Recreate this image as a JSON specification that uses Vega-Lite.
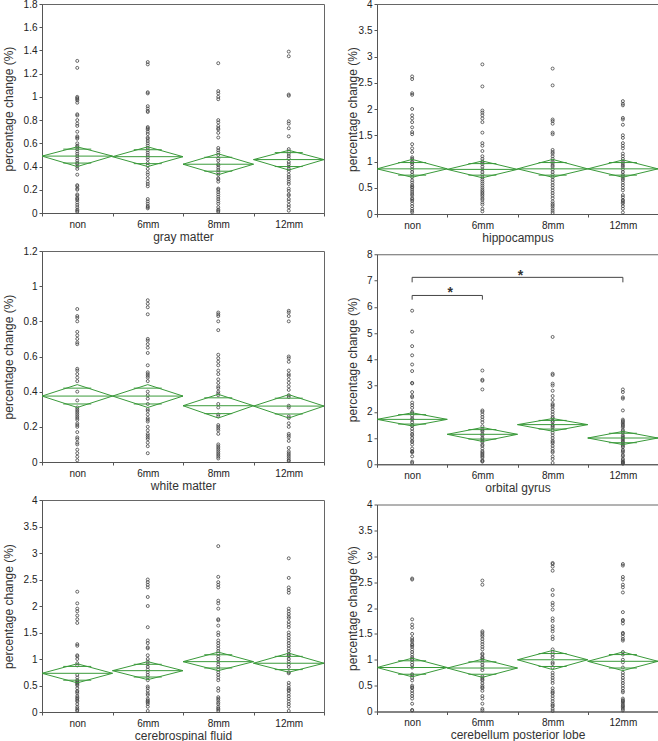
{
"$schema":"https://vega.github.io/schema/vega-lite/v6.json",
"padding":{"left":1,"top":-2,"right":0,"bottom":0},
"background":"white",
"config":{
 "view":{"stroke":"#666","strokeWidth":1},
 "axis":{"domainColor":"#555","tickColor":"#555","labelFont":"Liberation Sans","labelFontSize":10,"labelColor":"#222","titleFont":"Liberation Sans","titleFontSize":12,"titleFontWeight":"normal","titleColor":"#333","grid":false,"tickSize":3},
 "axisX":{"labelAngle":0,"tickBand":"extent","labelPadding":3,"titlePadding":2},
 "axisY":{"labelPadding":2}
},
"datasets":{
"gm":[{"g":"non","v":1.31},{"g":"non","v":1.25},{"g":"non","v":1.0},{"g":"non","v":0.99},{"g":"non","v":0.98},{"g":"non","v":0.97},{"g":"non","v":0.95},{"g":"non","v":0.85},{"g":"non","v":0.84},{"g":"non","v":0.8},{"g":"non","v":0.77},{"g":"non","v":0.75},{"g":"non","v":0.7},{"g":"non","v":0.66},{"g":"non","v":0.65},{"g":"non","v":0.64},{"g":"non","v":0.6},{"g":"non","v":0.58},{"g":"non","v":0.57},{"g":"non","v":0.55},{"g":"non","v":0.53},{"g":"non","v":0.51},{"g":"non","v":0.49},{"g":"non","v":0.47},{"g":"non","v":0.45},{"g":"non","v":0.43},{"g":"non","v":0.42},{"g":"non","v":0.4},{"g":"non","v":0.38},{"g":"non","v":0.33},{"g":"non","v":0.24},{"g":"non","v":0.23},{"g":"non","v":0.21},{"g":"non","v":0.2},{"g":"non","v":0.16},{"g":"non","v":0.15},{"g":"non","v":0.13},{"g":"non","v":0.12},{"g":"non","v":0.11},{"g":"non","v":0.09},{"g":"non","v":0.07},{"g":"non","v":0.05},{"g":"non","v":0.03},{"g":"non","v":0.02},{"g":"non","v":0.01},
{"g":"6mm","v":1.3},{"g":"6mm","v":1.28},{"g":"6mm","v":1.04},{"g":"6mm","v":1.03},{"g":"6mm","v":0.92},{"g":"6mm","v":0.9},{"g":"6mm","v":0.88},{"g":"6mm","v":0.87},{"g":"6mm","v":0.74},{"g":"6mm","v":0.73},{"g":"6mm","v":0.72},{"g":"6mm","v":0.7},{"g":"6mm","v":0.68},{"g":"6mm","v":0.65},{"g":"6mm","v":0.64},{"g":"6mm","v":0.62},{"g":"6mm","v":0.6},{"g":"6mm","v":0.58},{"g":"6mm","v":0.56},{"g":"6mm","v":0.54},{"g":"6mm","v":0.52},{"g":"6mm","v":0.5},{"g":"6mm","v":0.48},{"g":"6mm","v":0.46},{"g":"6mm","v":0.43},{"g":"6mm","v":0.41},{"g":"6mm","v":0.38},{"g":"6mm","v":0.35},{"g":"6mm","v":0.33},{"g":"6mm","v":0.3},{"g":"6mm","v":0.27},{"g":"6mm","v":0.25},{"g":"6mm","v":0.23},{"g":"6mm","v":0.12},{"g":"6mm","v":0.1},{"g":"6mm","v":0.08},{"g":"6mm","v":0.06},{"g":"6mm","v":0.05},{"g":"6mm","v":0.04},
{"g":"8mm","v":1.29},{"g":"8mm","v":1.05},{"g":"8mm","v":1.03},{"g":"8mm","v":1.0},{"g":"8mm","v":0.98},{"g":"8mm","v":0.8},{"g":"8mm","v":0.78},{"g":"8mm","v":0.75},{"g":"8mm","v":0.73},{"g":"8mm","v":0.72},{"g":"8mm","v":0.69},{"g":"8mm","v":0.65},{"g":"8mm","v":0.56},{"g":"8mm","v":0.54},{"g":"8mm","v":0.52},{"g":"8mm","v":0.5},{"g":"8mm","v":0.47},{"g":"8mm","v":0.45},{"g":"8mm","v":0.42},{"g":"8mm","v":0.41},{"g":"8mm","v":0.39},{"g":"8mm","v":0.37},{"g":"8mm","v":0.35},{"g":"8mm","v":0.33},{"g":"8mm","v":0.3},{"g":"8mm","v":0.29},{"g":"8mm","v":0.27},{"g":"8mm","v":0.21},{"g":"8mm","v":0.2},{"g":"8mm","v":0.18},{"g":"8mm","v":0.16},{"g":"8mm","v":0.14},{"g":"8mm","v":0.12},{"g":"8mm","v":0.1},{"g":"8mm","v":0.08},{"g":"8mm","v":0.05},{"g":"8mm","v":0.03},{"g":"8mm","v":0.02},{"g":"8mm","v":0.01},
{"g":"12mm","v":1.39},{"g":"12mm","v":1.35},{"g":"12mm","v":1.02},{"g":"12mm","v":1.01},{"g":"12mm","v":0.79},{"g":"12mm","v":0.77},{"g":"12mm","v":0.73},{"g":"12mm","v":0.66},{"g":"12mm","v":0.55},{"g":"12mm","v":0.53},{"g":"12mm","v":0.51},{"g":"12mm","v":0.49},{"g":"12mm","v":0.47},{"g":"12mm","v":0.44},{"g":"12mm","v":0.42},{"g":"12mm","v":0.4},{"g":"12mm","v":0.38},{"g":"12mm","v":0.36},{"g":"12mm","v":0.33},{"g":"12mm","v":0.31},{"g":"12mm","v":0.29},{"g":"12mm","v":0.27},{"g":"12mm","v":0.25},{"g":"12mm","v":0.21},{"g":"12mm","v":0.19},{"g":"12mm","v":0.16},{"g":"12mm","v":0.15},{"g":"12mm","v":0.12},{"g":"12mm","v":0.1},{"g":"12mm","v":0.07},{"g":"12mm","v":0.05},{"g":"12mm","v":0.02}],
"gm_d":[{"g":"non","mean":0.49,"hi":0.57,"lo":0.4,"oh":0.55,"ol":0.43},{"g":"6mm","mean":0.485,"hi":0.57,"lo":0.4,"oh":0.545,"ol":0.425},{"g":"8mm","mean":0.42,"hi":0.51,"lo":0.33,"oh":0.48,"ol":0.36},{"g":"12mm","mean":0.46,"hi":0.54,"lo":0.37,"oh":0.52,"ol":0.4}],
"hc":[{"g":"non","v":2.62},{"g":"non","v":2.57},{"g":"non","v":2.3},{"g":"non","v":2.27},{"g":"non","v":2.0},{"g":"non","v":1.88},{"g":"non","v":1.82},{"g":"non","v":1.75},{"g":"non","v":1.65},{"g":"non","v":1.56},{"g":"non","v":1.52},{"g":"non","v":1.33},{"g":"non","v":1.25},{"g":"non","v":1.18},{"g":"non","v":1.08},{"g":"non","v":1.05},{"g":"non","v":1.0},{"g":"non","v":0.98},{"g":"non","v":0.95},{"g":"non","v":0.9},{"g":"non","v":0.85},{"g":"non","v":0.8},{"g":"non","v":0.75},{"g":"non","v":0.7},{"g":"non","v":0.64},{"g":"non","v":0.6},{"g":"non","v":0.55},{"g":"non","v":0.52},{"g":"non","v":0.5},{"g":"non","v":0.46},{"g":"non","v":0.42},{"g":"non","v":0.38},{"g":"non","v":0.35},{"g":"non","v":0.3},{"g":"non","v":0.28},{"g":"non","v":0.25},{"g":"non","v":0.2},{"g":"non","v":0.15},{"g":"non","v":0.1},{"g":"non","v":0.06},{"g":"non","v":0.03},
{"g":"6mm","v":2.85},{"g":"6mm","v":2.43},{"g":"6mm","v":1.97},{"g":"6mm","v":1.93},{"g":"6mm","v":1.88},{"g":"6mm","v":1.82},{"g":"6mm","v":1.75},{"g":"6mm","v":1.55},{"g":"6mm","v":1.35},{"g":"6mm","v":1.3},{"g":"6mm","v":1.2},{"g":"6mm","v":1.1},{"g":"6mm","v":1.05},{"g":"6mm","v":1.0},{"g":"6mm","v":0.98},{"g":"6mm","v":0.95},{"g":"6mm","v":0.9},{"g":"6mm","v":0.85},{"g":"6mm","v":0.8},{"g":"6mm","v":0.75},{"g":"6mm","v":0.7},{"g":"6mm","v":0.66},{"g":"6mm","v":0.62},{"g":"6mm","v":0.58},{"g":"6mm","v":0.54},{"g":"6mm","v":0.5},{"g":"6mm","v":0.46},{"g":"6mm","v":0.43},{"g":"6mm","v":0.4},{"g":"6mm","v":0.37},{"g":"6mm","v":0.34},{"g":"6mm","v":0.3},{"g":"6mm","v":0.27},{"g":"6mm","v":0.22},{"g":"6mm","v":0.18},{"g":"6mm","v":0.1},{"g":"6mm","v":0.05},
{"g":"8mm","v":2.77},{"g":"8mm","v":2.45},{"g":"8mm","v":1.8},{"g":"8mm","v":1.77},{"g":"8mm","v":1.72},{"g":"8mm","v":1.55},{"g":"8mm","v":1.52},{"g":"8mm","v":1.22},{"g":"8mm","v":1.18},{"g":"8mm","v":1.15},{"g":"8mm","v":1.1},{"g":"8mm","v":1.05},{"g":"8mm","v":1.0},{"g":"8mm","v":0.97},{"g":"8mm","v":0.93},{"g":"8mm","v":0.9},{"g":"8mm","v":0.85},{"g":"8mm","v":0.8},{"g":"8mm","v":0.75},{"g":"8mm","v":0.7},{"g":"8mm","v":0.65},{"g":"8mm","v":0.6},{"g":"8mm","v":0.55},{"g":"8mm","v":0.5},{"g":"8mm","v":0.45},{"g":"8mm","v":0.4},{"g":"8mm","v":0.35},{"g":"8mm","v":0.3},{"g":"8mm","v":0.24},{"g":"8mm","v":0.2},{"g":"8mm","v":0.17},{"g":"8mm","v":0.14},{"g":"8mm","v":0.1},{"g":"8mm","v":0.06},{"g":"8mm","v":0.02},
{"g":"12mm","v":2.15},{"g":"12mm","v":2.1},{"g":"12mm","v":2.07},{"g":"12mm","v":1.83},{"g":"12mm","v":1.8},{"g":"12mm","v":1.7},{"g":"12mm","v":1.5},{"g":"12mm","v":1.45},{"g":"12mm","v":1.35},{"g":"12mm","v":1.3},{"g":"12mm","v":1.25},{"g":"12mm","v":1.15},{"g":"12mm","v":1.1},{"g":"12mm","v":1.05},{"g":"12mm","v":1.0},{"g":"12mm","v":0.97},{"g":"12mm","v":0.93},{"g":"12mm","v":0.9},{"g":"12mm","v":0.85},{"g":"12mm","v":0.8},{"g":"12mm","v":0.75},{"g":"12mm","v":0.72},{"g":"12mm","v":0.68},{"g":"12mm","v":0.65},{"g":"12mm","v":0.6},{"g":"12mm","v":0.55},{"g":"12mm","v":0.5},{"g":"12mm","v":0.45},{"g":"12mm","v":0.36},{"g":"12mm","v":0.32},{"g":"12mm","v":0.27},{"g":"12mm","v":0.25},{"g":"12mm","v":0.22},{"g":"12mm","v":0.2},{"g":"12mm","v":0.15},{"g":"12mm","v":0.1},{"g":"12mm","v":0.03}],
"hc_d":[{"g":"non","mean":0.86,"hi":1.04,"lo":0.7,"oh":0.98,"ol":0.74},{"g":"6mm","mean":0.85,"hi":1.01,"lo":0.69,"oh":0.96,"ol":0.74},{"g":"8mm","mean":0.86,"hi":1.04,"lo":0.7,"oh":0.98,"ol":0.74},{"g":"12mm","mean":0.86,"hi":1.03,"lo":0.7,"oh":0.98,"ol":0.74}],
"wm":[{"g":"non","v":0.87},{"g":"non","v":0.83},{"g":"non","v":0.82},{"g":"non","v":0.8},{"g":"non","v":0.74},{"g":"non","v":0.72},{"g":"non","v":0.7},{"g":"non","v":0.68},{"g":"non","v":0.67},{"g":"non","v":0.53},{"g":"non","v":0.52},{"g":"non","v":0.5},{"g":"non","v":0.48},{"g":"non","v":0.46},{"g":"non","v":0.4},{"g":"non","v":0.35},{"g":"non","v":0.31},{"g":"non","v":0.3},{"g":"non","v":0.29},{"g":"non","v":0.28},{"g":"non","v":0.27},{"g":"non","v":0.26},{"g":"non","v":0.25},{"g":"non","v":0.24},{"g":"non","v":0.22},{"g":"non","v":0.21},{"g":"non","v":0.2},{"g":"non","v":0.17},{"g":"non","v":0.14},{"g":"non","v":0.13},{"g":"non","v":0.11},{"g":"non","v":0.1},{"g":"non","v":0.07},{"g":"non","v":0.05},{"g":"non","v":0.03},{"g":"non","v":0.01},
{"g":"6mm","v":0.92},{"g":"6mm","v":0.9},{"g":"6mm","v":0.88},{"g":"6mm","v":0.84},{"g":"6mm","v":0.7},{"g":"6mm","v":0.69},{"g":"6mm","v":0.67},{"g":"6mm","v":0.65},{"g":"6mm","v":0.62},{"g":"6mm","v":0.55},{"g":"6mm","v":0.51},{"g":"6mm","v":0.5},{"g":"6mm","v":0.49},{"g":"6mm","v":0.48},{"g":"6mm","v":0.46},{"g":"6mm","v":0.4},{"g":"6mm","v":0.38},{"g":"6mm","v":0.36},{"g":"6mm","v":0.33},{"g":"6mm","v":0.3},{"g":"6mm","v":0.29},{"g":"6mm","v":0.27},{"g":"6mm","v":0.25},{"g":"6mm","v":0.24},{"g":"6mm","v":0.23},{"g":"6mm","v":0.2},{"g":"6mm","v":0.18},{"g":"6mm","v":0.16},{"g":"6mm","v":0.15},{"g":"6mm","v":0.14},{"g":"6mm","v":0.13},{"g":"6mm","v":0.11},{"g":"6mm","v":0.09},{"g":"6mm","v":0.05},
{"g":"8mm","v":0.85},{"g":"8mm","v":0.84},{"g":"8mm","v":0.83},{"g":"8mm","v":0.8},{"g":"8mm","v":0.75},{"g":"8mm","v":0.61},{"g":"8mm","v":0.59},{"g":"8mm","v":0.57},{"g":"8mm","v":0.55},{"g":"8mm","v":0.52},{"g":"8mm","v":0.5},{"g":"8mm","v":0.47},{"g":"8mm","v":0.45},{"g":"8mm","v":0.43},{"g":"8mm","v":0.42},{"g":"8mm","v":0.4},{"g":"8mm","v":0.39},{"g":"8mm","v":0.38},{"g":"8mm","v":0.33},{"g":"8mm","v":0.31},{"g":"8mm","v":0.27},{"g":"8mm","v":0.26},{"g":"8mm","v":0.21},{"g":"8mm","v":0.2},{"g":"8mm","v":0.19},{"g":"8mm","v":0.18},{"g":"8mm","v":0.16},{"g":"8mm","v":0.1},{"g":"8mm","v":0.09},{"g":"8mm","v":0.08},{"g":"8mm","v":0.07},{"g":"8mm","v":0.06},{"g":"8mm","v":0.05},{"g":"8mm","v":0.04},{"g":"8mm","v":0.03},{"g":"8mm","v":0.02},
{"g":"12mm","v":0.86},{"g":"12mm","v":0.85},{"g":"12mm","v":0.83},{"g":"12mm","v":0.8},{"g":"12mm","v":0.6},{"g":"12mm","v":0.59},{"g":"12mm","v":0.57},{"g":"12mm","v":0.52},{"g":"12mm","v":0.5},{"g":"12mm","v":0.49},{"g":"12mm","v":0.47},{"g":"12mm","v":0.45},{"g":"12mm","v":0.43},{"g":"12mm","v":0.41},{"g":"12mm","v":0.38},{"g":"12mm","v":0.37},{"g":"12mm","v":0.32},{"g":"12mm","v":0.31},{"g":"12mm","v":0.26},{"g":"12mm","v":0.25},{"g":"12mm","v":0.22},{"g":"12mm","v":0.2},{"g":"12mm","v":0.16},{"g":"12mm","v":0.15},{"g":"12mm","v":0.14},{"g":"12mm","v":0.12},{"g":"12mm","v":0.08},{"g":"12mm","v":0.06},{"g":"12mm","v":0.05},{"g":"12mm","v":0.04},{"g":"12mm","v":0.03},{"g":"12mm","v":0.02},{"g":"12mm","v":0.01},{"g":"12mm","v":0.005}],
"wm_d":[{"g":"non","mean":0.375,"hi":0.44,"lo":0.31,"oh":0.42,"ol":0.33},{"g":"6mm","mean":0.375,"hi":0.44,"lo":0.31,"oh":0.42,"ol":0.33},{"g":"8mm","mean":0.32,"hi":0.385,"lo":0.25,"oh":0.365,"ol":0.275},{"g":"12mm","mean":0.318,"hi":0.383,"lo":0.25,"oh":0.363,"ol":0.273}],
"og":[{"g":"non","v":5.85},{"g":"non","v":5.05},{"g":"non","v":4.5},{"g":"non","v":4.15},{"g":"non","v":3.8},{"g":"non","v":3.55},{"g":"non","v":3.1},{"g":"non","v":3.08},{"g":"non","v":2.75},{"g":"non","v":2.6},{"g":"non","v":2.55},{"g":"non","v":2.35},{"g":"non","v":2.25},{"g":"non","v":2.15},{"g":"non","v":2.0},{"g":"non","v":1.95},{"g":"non","v":1.85},{"g":"non","v":1.75},{"g":"non","v":1.7},{"g":"non","v":1.6},{"g":"non","v":1.5},{"g":"non","v":1.45},{"g":"non","v":1.35},{"g":"non","v":1.25},{"g":"non","v":1.15},{"g":"non","v":1.1},{"g":"non","v":1.0},{"g":"non","v":0.9},{"g":"non","v":0.85},{"g":"non","v":0.75},{"g":"non","v":0.6},{"g":"non","v":0.5},{"g":"non","v":0.48},{"g":"non","v":0.45},{"g":"non","v":0.3},{"g":"non","v":0.1},{"g":"non","v":0.05},
{"g":"6mm","v":3.57},{"g":"6mm","v":3.22},{"g":"6mm","v":3.18},{"g":"6mm","v":2.85},{"g":"6mm","v":2.05},{"g":"6mm","v":2.0},{"g":"6mm","v":1.9},{"g":"6mm","v":1.8},{"g":"6mm","v":1.7},{"g":"6mm","v":1.6},{"g":"6mm","v":1.45},{"g":"6mm","v":1.35},{"g":"6mm","v":1.3},{"g":"6mm","v":1.25},{"g":"6mm","v":1.15},{"g":"6mm","v":1.1},{"g":"6mm","v":1.0},{"g":"6mm","v":0.95},{"g":"6mm","v":0.9},{"g":"6mm","v":0.85},{"g":"6mm","v":0.75},{"g":"6mm","v":0.7},{"g":"6mm","v":0.6},{"g":"6mm","v":0.5},{"g":"6mm","v":0.45},{"g":"6mm","v":0.4},{"g":"6mm","v":0.35},{"g":"6mm","v":0.3},{"g":"6mm","v":0.25},{"g":"6mm","v":0.15},{"g":"6mm","v":0.12},{"g":"6mm","v":0.1},
{"g":"8mm","v":4.85},{"g":"8mm","v":3.45},{"g":"8mm","v":3.4},{"g":"8mm","v":3.07},{"g":"8mm","v":3.0},{"g":"8mm","v":2.8},{"g":"8mm","v":2.6},{"g":"8mm","v":2.45},{"g":"8mm","v":2.3},{"g":"8mm","v":2.25},{"g":"8mm","v":2.2},{"g":"8mm","v":2.1},{"g":"8mm","v":2.0},{"g":"8mm","v":1.9},{"g":"8mm","v":1.8},{"g":"8mm","v":1.75},{"g":"8mm","v":1.65},{"g":"8mm","v":1.6},{"g":"8mm","v":1.5},{"g":"8mm","v":1.45},{"g":"8mm","v":1.4},{"g":"8mm","v":1.3},{"g":"8mm","v":1.2},{"g":"8mm","v":1.1},{"g":"8mm","v":1.0},{"g":"8mm","v":0.9},{"g":"8mm","v":0.85},{"g":"8mm","v":0.8},{"g":"8mm","v":0.7},{"g":"8mm","v":0.6},{"g":"8mm","v":0.5},{"g":"8mm","v":0.45},{"g":"8mm","v":0.3},{"g":"8mm","v":0.2},{"g":"8mm","v":0.05},
{"g":"12mm","v":2.85},{"g":"12mm","v":2.75},{"g":"12mm","v":2.55},{"g":"12mm","v":2.5},{"g":"12mm","v":2.05},{"g":"12mm","v":1.7},{"g":"12mm","v":1.65},{"g":"12mm","v":1.6},{"g":"12mm","v":1.55},{"g":"12mm","v":1.5},{"g":"12mm","v":1.45},{"g":"12mm","v":1.4},{"g":"12mm","v":1.3},{"g":"12mm","v":1.25},{"g":"12mm","v":1.2},{"g":"12mm","v":1.1},{"g":"12mm","v":1.05},{"g":"12mm","v":1.0},{"g":"12mm","v":0.95},{"g":"12mm","v":0.9},{"g":"12mm","v":0.85},{"g":"12mm","v":0.8},{"g":"12mm","v":0.75},{"g":"12mm","v":0.7},{"g":"12mm","v":0.65},{"g":"12mm","v":0.55},{"g":"12mm","v":0.5},{"g":"12mm","v":0.45},{"g":"12mm","v":0.35},{"g":"12mm","v":0.3},{"g":"12mm","v":0.2},{"g":"12mm","v":0.15},{"g":"12mm","v":0.1},{"g":"12mm","v":0.08},{"g":"12mm","v":0.05},{"g":"12mm","v":0.02}],
"og_d":[{"g":"non","mean":1.71,"hi":1.96,"lo":1.46,"oh":1.89,"ol":1.53},{"g":"6mm","mean":1.14,"hi":1.4,"lo":0.87,"oh":1.32,"ol":0.96},{"g":"8mm","mean":1.51,"hi":1.74,"lo":1.26,"oh":1.67,"ol":1.34},{"g":"12mm","mean":1.0,"hi":1.25,"lo":0.75,"oh":1.18,"ol":0.82}],
"og_s":[{"a":"non","b":"6mm","mid":"non","y":6.43,"y0":6.27,"ys":6.52,"s":"*"},{"a":"non","b":"12mm","mid":"6mm","y":7.12,"y0":6.93,"ys":7.19,"s":"*"}],
"csf":[{"g":"non","v":2.27},{"g":"non","v":2.05},{"g":"non","v":1.95},{"g":"non","v":1.9},{"g":"non","v":1.82},{"g":"non","v":1.75},{"g":"non","v":1.68},{"g":"non","v":1.28},{"g":"non","v":1.25},{"g":"non","v":1.07},{"g":"non","v":1.05},{"g":"non","v":1.0},{"g":"non","v":0.92},{"g":"non","v":0.88},{"g":"non","v":0.7},{"g":"non","v":0.65},{"g":"non","v":0.6},{"g":"non","v":0.58},{"g":"non","v":0.56},{"g":"non","v":0.54},{"g":"non","v":0.52},{"g":"non","v":0.5},{"g":"non","v":0.45},{"g":"non","v":0.4},{"g":"non","v":0.38},{"g":"non","v":0.35},{"g":"non","v":0.3},{"g":"non","v":0.27},{"g":"non","v":0.25},{"g":"non","v":0.22},{"g":"non","v":0.2},{"g":"non","v":0.15},{"g":"non","v":0.1},{"g":"non","v":0.07},{"g":"non","v":0.04},{"g":"non","v":0.02},
{"g":"6mm","v":2.5},{"g":"6mm","v":2.45},{"g":"6mm","v":2.4},{"g":"6mm","v":2.35},{"g":"6mm","v":2.17},{"g":"6mm","v":2.0},{"g":"6mm","v":1.6},{"g":"6mm","v":1.35},{"g":"6mm","v":1.3},{"g":"6mm","v":1.22},{"g":"6mm","v":1.2},{"g":"6mm","v":1.07},{"g":"6mm","v":1.0},{"g":"6mm","v":0.95},{"g":"6mm","v":0.9},{"g":"6mm","v":0.85},{"g":"6mm","v":0.8},{"g":"6mm","v":0.75},{"g":"6mm","v":0.7},{"g":"6mm","v":0.65},{"g":"6mm","v":0.6},{"g":"6mm","v":0.48},{"g":"6mm","v":0.45},{"g":"6mm","v":0.4},{"g":"6mm","v":0.35},{"g":"6mm","v":0.32},{"g":"6mm","v":0.25},{"g":"6mm","v":0.22},{"g":"6mm","v":0.2},{"g":"6mm","v":0.18},{"g":"6mm","v":0.15},{"g":"6mm","v":0.1},{"g":"6mm","v":0.02},
{"g":"8mm","v":3.13},{"g":"8mm","v":2.55},{"g":"8mm","v":2.45},{"g":"8mm","v":2.4},{"g":"8mm","v":2.35},{"g":"8mm","v":2.1},{"g":"8mm","v":2.05},{"g":"8mm","v":1.95},{"g":"8mm","v":1.75},{"g":"8mm","v":1.73},{"g":"8mm","v":1.63},{"g":"8mm","v":1.5},{"g":"8mm","v":1.45},{"g":"8mm","v":1.35},{"g":"8mm","v":1.3},{"g":"8mm","v":1.25},{"g":"8mm","v":1.2},{"g":"8mm","v":1.15},{"g":"8mm","v":1.1},{"g":"8mm","v":1.05},{"g":"8mm","v":1.0},{"g":"8mm","v":0.95},{"g":"8mm","v":0.9},{"g":"8mm","v":0.85},{"g":"8mm","v":0.8},{"g":"8mm","v":0.75},{"g":"8mm","v":0.7},{"g":"8mm","v":0.65},{"g":"8mm","v":0.6},{"g":"8mm","v":0.45},{"g":"8mm","v":0.4},{"g":"8mm","v":0.28},{"g":"8mm","v":0.25},{"g":"8mm","v":0.22},{"g":"8mm","v":0.18},{"g":"8mm","v":0.15},{"g":"8mm","v":0.1},{"g":"8mm","v":0.07},{"g":"8mm","v":0.05},{"g":"8mm","v":0.02},
{"g":"12mm","v":2.9},{"g":"12mm","v":2.53},{"g":"12mm","v":2.35},{"g":"12mm","v":2.3},{"g":"12mm","v":2.25},{"g":"12mm","v":1.95},{"g":"12mm","v":1.9},{"g":"12mm","v":1.85},{"g":"12mm","v":1.8},{"g":"12mm","v":1.77},{"g":"12mm","v":1.7},{"g":"12mm","v":1.65},{"g":"12mm","v":1.6},{"g":"12mm","v":1.5},{"g":"12mm","v":1.45},{"g":"12mm","v":1.4},{"g":"12mm","v":1.35},{"g":"12mm","v":1.3},{"g":"12mm","v":1.25},{"g":"12mm","v":1.2},{"g":"12mm","v":1.15},{"g":"12mm","v":1.1},{"g":"12mm","v":1.07},{"g":"12mm","v":1.05},{"g":"12mm","v":1.0},{"g":"12mm","v":0.95},{"g":"12mm","v":0.9},{"g":"12mm","v":0.85},{"g":"12mm","v":0.75},{"g":"12mm","v":0.73},{"g":"12mm","v":0.55},{"g":"12mm","v":0.5},{"g":"12mm","v":0.45},{"g":"12mm","v":0.42},{"g":"12mm","v":0.4},{"g":"12mm","v":0.35},{"g":"12mm","v":0.3},{"g":"12mm","v":0.25},{"g":"12mm","v":0.2},{"g":"12mm","v":0.15},{"g":"12mm","v":0.1},{"g":"12mm","v":0.02}],
"csf_d":[{"g":"non","mean":0.73,"hi":0.91,"lo":0.55,"oh":0.86,"ol":0.6},{"g":"6mm","mean":0.78,"hi":0.95,"lo":0.61,"oh":0.9,"ol":0.66},{"g":"8mm","mean":0.95,"hi":1.13,"lo":0.78,"oh":1.08,"ol":0.83},{"g":"12mm","mean":0.92,"hi":1.11,"lo":0.75,"oh":1.05,"ol":0.8}],
"cpl":[{"g":"non","v":2.57},{"g":"non","v":2.55},{"g":"non","v":1.78},{"g":"non","v":1.68},{"g":"non","v":1.62},{"g":"non","v":1.5},{"g":"non","v":1.42},{"g":"non","v":1.38},{"g":"non","v":1.35},{"g":"non","v":1.3},{"g":"non","v":1.28},{"g":"non","v":1.25},{"g":"non","v":1.2},{"g":"non","v":1.15},{"g":"non","v":1.1},{"g":"non","v":1.05},{"g":"non","v":1.02},{"g":"non","v":1.0},{"g":"non","v":0.95},{"g":"non","v":0.9},{"g":"non","v":0.85},{"g":"non","v":0.72},{"g":"non","v":0.7},{"g":"non","v":0.65},{"g":"non","v":0.6},{"g":"non","v":0.5},{"g":"non","v":0.47},{"g":"non","v":0.45},{"g":"non","v":0.4},{"g":"non","v":0.35},{"g":"non","v":0.3},{"g":"non","v":0.25},{"g":"non","v":0.15},{"g":"non","v":0.03},{"g":"non","v":0.02},
{"g":"6mm","v":2.53},{"g":"6mm","v":2.45},{"g":"6mm","v":1.55},{"g":"6mm","v":1.52},{"g":"6mm","v":1.48},{"g":"6mm","v":1.45},{"g":"6mm","v":1.4},{"g":"6mm","v":1.35},{"g":"6mm","v":1.3},{"g":"6mm","v":1.25},{"g":"6mm","v":1.2},{"g":"6mm","v":1.12},{"g":"6mm","v":1.1},{"g":"6mm","v":1.05},{"g":"6mm","v":1.03},{"g":"6mm","v":1.0},{"g":"6mm","v":0.95},{"g":"6mm","v":0.9},{"g":"6mm","v":0.85},{"g":"6mm","v":0.8},{"g":"6mm","v":0.68},{"g":"6mm","v":0.65},{"g":"6mm","v":0.62},{"g":"6mm","v":0.6},{"g":"6mm","v":0.55},{"g":"6mm","v":0.5},{"g":"6mm","v":0.47},{"g":"6mm","v":0.45},{"g":"6mm","v":0.4},{"g":"6mm","v":0.3},{"g":"6mm","v":0.25},{"g":"6mm","v":0.15},{"g":"6mm","v":0.05},{"g":"6mm","v":0.02},
{"g":"8mm","v":2.87},{"g":"8mm","v":2.85},{"g":"8mm","v":2.8},{"g":"8mm","v":2.72},{"g":"8mm","v":2.35},{"g":"8mm","v":2.25},{"g":"8mm","v":2.1},{"g":"8mm","v":2.05},{"g":"8mm","v":1.97},{"g":"8mm","v":1.8},{"g":"8mm","v":1.75},{"g":"8mm","v":1.65},{"g":"8mm","v":1.6},{"g":"8mm","v":1.55},{"g":"8mm","v":1.45},{"g":"8mm","v":1.4},{"g":"8mm","v":1.2},{"g":"8mm","v":1.15},{"g":"8mm","v":1.1},{"g":"8mm","v":1.05},{"g":"8mm","v":0.95},{"g":"8mm","v":0.92},{"g":"8mm","v":0.85},{"g":"8mm","v":0.75},{"g":"8mm","v":0.7},{"g":"8mm","v":0.65},{"g":"8mm","v":0.6},{"g":"8mm","v":0.55},{"g":"8mm","v":0.45},{"g":"8mm","v":0.4},{"g":"8mm","v":0.37},{"g":"8mm","v":0.35},{"g":"8mm","v":0.3},{"g":"8mm","v":0.25},{"g":"8mm","v":0.2},{"g":"8mm","v":0.15},{"g":"8mm","v":0.12},{"g":"8mm","v":0.1},{"g":"8mm","v":0.05},{"g":"8mm","v":0.01},
{"g":"12mm","v":2.85},{"g":"12mm","v":2.82},{"g":"12mm","v":2.6},{"g":"12mm","v":2.55},{"g":"12mm","v":2.45},{"g":"12mm","v":2.4},{"g":"12mm","v":2.3},{"g":"12mm","v":1.92},{"g":"12mm","v":1.77},{"g":"12mm","v":1.75},{"g":"12mm","v":1.7},{"g":"12mm","v":1.52},{"g":"12mm","v":1.5},{"g":"12mm","v":1.45},{"g":"12mm","v":1.4},{"g":"12mm","v":1.37},{"g":"12mm","v":1.15},{"g":"12mm","v":1.1},{"g":"12mm","v":1.0},{"g":"12mm","v":0.95},{"g":"12mm","v":0.85},{"g":"12mm","v":0.75},{"g":"12mm","v":0.7},{"g":"12mm","v":0.65},{"g":"12mm","v":0.6},{"g":"12mm","v":0.55},{"g":"12mm","v":0.5},{"g":"12mm","v":0.45},{"g":"12mm","v":0.4},{"g":"12mm","v":0.37},{"g":"12mm","v":0.25},{"g":"12mm","v":0.22},{"g":"12mm","v":0.2},{"g":"12mm","v":0.18},{"g":"12mm","v":0.15},{"g":"12mm","v":0.12},{"g":"12mm","v":0.1},{"g":"12mm","v":0.08},{"g":"12mm","v":0.05},{"g":"12mm","v":0.02}],
"cpl_d":[{"g":"non","mean":0.85,"hi":1.03,"lo":0.67,"oh":0.98,"ol":0.72},{"g":"6mm","mean":0.84,"hi":1.01,"lo":0.66,"oh":0.96,"ol":0.72},{"g":"8mm","mean":1.0,"hi":1.18,"lo":0.81,"oh":1.12,"ol":0.87},{"g":"12mm","mean":0.97,"hi":1.15,"lo":0.79,"oh":1.1,"ol":0.84}]
},
"hconcat":[
{"vconcat":[
 {"width":282,"height":209,
  "encoding":{"x":{"field":"g","type":"nominal","scale":{"domain":["non","6mm","8mm","12mm"],"paddingInner":0,"paddingOuter":0},"title":"gray matter"}},
  "layer":[
   {"data":{"name":"gm"},"mark":{"type":"point","shape":"circle","filled":false,"size":9,"stroke":"#444","strokeWidth":0.8,"opacity":1},
    "encoding":{"y":{"field":"v","type":"quantitative","scale":{"domain":[0,1.8],"nice":false},"title":"percentage change (%)","axis":{"values":[0,0.2,0.4,0.6,0.8,1,1.2,1.4,1.6,1.8],"format":"~g","titlePadding":7,"minExtent":20,"maxExtent":20}}}},
   {"data":{"name":"gm_d"},"layer":[
    {"mark":{"type":"rule","color":"#3a9a3a","xOffset":-35.25},"encoding":{"x2":{"field":"g"},"y":{"field":"mean","type":"quantitative","scale":{"domain":[0,1.8],"nice":false},"title":"percentage change (%)","axis":{"values":[0,0.2,0.4,0.6,0.8,1,1.2,1.4,1.6,1.8],"format":"~g","titlePadding":7,"minExtent":20,"maxExtent":20}},"y2":{"field":"hi"}}},
    {"mark":{"type":"rule","color":"#3a9a3a","xOffset":35.25},"encoding":{"x2":{"field":"g"},"y":{"field":"mean","type":"quantitative","scale":{"domain":[0,1.8],"nice":false},"title":"percentage change (%)","axis":{"values":[0,0.2,0.4,0.6,0.8,1,1.2,1.4,1.6,1.8],"format":"~g","titlePadding":7,"minExtent":20,"maxExtent":20}},"y2":{"field":"hi"}}},
    {"mark":{"type":"rule","color":"#3a9a3a","xOffset":-35.25},"encoding":{"x2":{"field":"g"},"y":{"field":"mean","type":"quantitative","scale":{"domain":[0,1.8],"nice":false},"title":"percentage change (%)","axis":{"values":[0,0.2,0.4,0.6,0.8,1,1.2,1.4,1.6,1.8],"format":"~g","titlePadding":7,"minExtent":20,"maxExtent":20}},"y2":{"field":"lo"}}},
    {"mark":{"type":"rule","color":"#3a9a3a","xOffset":35.25},"encoding":{"x2":{"field":"g"},"y":{"field":"mean","type":"quantitative","scale":{"domain":[0,1.8],"nice":false},"title":"percentage change (%)","axis":{"values":[0,0.2,0.4,0.6,0.8,1,1.2,1.4,1.6,1.8],"format":"~g","titlePadding":7,"minExtent":20,"maxExtent":20}},"y2":{"field":"lo"}}},
    {"mark":{"type":"rule","color":"#3a9a3a","xOffset":-35.25,"x2Offset":35.25},"encoding":{"x2":{"field":"g"},"y":{"field":"mean","type":"quantitative","scale":{"domain":[0,1.8],"nice":false},"title":"percentage change (%)","axis":{"values":[0,0.2,0.4,0.6,0.8,1,1.2,1.4,1.6,1.8],"format":"~g","titlePadding":7,"minExtent":20,"maxExtent":20}}}},
    {"mark":{"type":"rule","color":"#3a9a3a","xOffset":-14,"x2Offset":14},"encoding":{"x2":{"field":"g"},"y":{"field":"oh","type":"quantitative","scale":{"domain":[0,1.8],"nice":false},"title":"percentage change (%)","axis":{"values":[0,0.2,0.4,0.6,0.8,1,1.2,1.4,1.6,1.8],"format":"~g","titlePadding":7,"minExtent":20,"maxExtent":20}}}},
    {"mark":{"type":"rule","color":"#3a9a3a","xOffset":-14,"x2Offset":14},"encoding":{"x2":{"field":"g"},"y":{"field":"ol","type":"quantitative","scale":{"domain":[0,1.8],"nice":false},"title":"percentage change (%)","axis":{"values":[0,0.2,0.4,0.6,0.8,1,1.2,1.4,1.6,1.8],"format":"~g","titlePadding":7,"minExtent":20,"maxExtent":20}}}}
   ]}
  ]},
 {"width":282,"height":211,
  "encoding":{"x":{"field":"g","type":"nominal","scale":{"domain":["non","6mm","8mm","12mm"],"paddingInner":0,"paddingOuter":0},"title":"white matter"}},
  "layer":[
   {"data":{"name":"wm"},"mark":{"type":"point","shape":"circle","filled":false,"size":9,"stroke":"#444","strokeWidth":0.8,"opacity":1},
    "encoding":{"y":{"field":"v","type":"quantitative","scale":{"domain":[0,1.2],"nice":false},"title":"percentage change (%)","axis":{"values":[0,0.2,0.4,0.6,0.8,1,1.2],"format":"~g","titlePadding":7,"minExtent":20,"maxExtent":20}}}},
   {"data":{"name":"wm_d"},"layer":[
    {"mark":{"type":"rule","color":"#3a9a3a","xOffset":-35.25},"encoding":{"x2":{"field":"g"},"y":{"field":"mean","type":"quantitative","scale":{"domain":[0,1.2],"nice":false},"title":"percentage change (%)","axis":{"values":[0,0.2,0.4,0.6,0.8,1,1.2],"format":"~g","titlePadding":7,"minExtent":20,"maxExtent":20}},"y2":{"field":"hi"}}},
    {"mark":{"type":"rule","color":"#3a9a3a","xOffset":35.25},"encoding":{"x2":{"field":"g"},"y":{"field":"mean","type":"quantitative","scale":{"domain":[0,1.2],"nice":false},"title":"percentage change (%)","axis":{"values":[0,0.2,0.4,0.6,0.8,1,1.2],"format":"~g","titlePadding":7,"minExtent":20,"maxExtent":20}},"y2":{"field":"hi"}}},
    {"mark":{"type":"rule","color":"#3a9a3a","xOffset":-35.25},"encoding":{"x2":{"field":"g"},"y":{"field":"mean","type":"quantitative","scale":{"domain":[0,1.2],"nice":false},"title":"percentage change (%)","axis":{"values":[0,0.2,0.4,0.6,0.8,1,1.2],"format":"~g","titlePadding":7,"minExtent":20,"maxExtent":20}},"y2":{"field":"lo"}}},
    {"mark":{"type":"rule","color":"#3a9a3a","xOffset":35.25},"encoding":{"x2":{"field":"g"},"y":{"field":"mean","type":"quantitative","scale":{"domain":[0,1.2],"nice":false},"title":"percentage change (%)","axis":{"values":[0,0.2,0.4,0.6,0.8,1,1.2],"format":"~g","titlePadding":7,"minExtent":20,"maxExtent":20}},"y2":{"field":"lo"}}},
    {"mark":{"type":"rule","color":"#3a9a3a","xOffset":-35.25,"x2Offset":35.25},"encoding":{"x2":{"field":"g"},"y":{"field":"mean","type":"quantitative","scale":{"domain":[0,1.2],"nice":false},"title":"percentage change (%)","axis":{"values":[0,0.2,0.4,0.6,0.8,1,1.2],"format":"~g","titlePadding":7,"minExtent":20,"maxExtent":20}}}},
    {"mark":{"type":"rule","color":"#3a9a3a","xOffset":-14,"x2Offset":14},"encoding":{"x2":{"field":"g"},"y":{"field":"oh","type":"quantitative","scale":{"domain":[0,1.2],"nice":false},"title":"percentage change (%)","axis":{"values":[0,0.2,0.4,0.6,0.8,1,1.2],"format":"~g","titlePadding":7,"minExtent":20,"maxExtent":20}}}},
    {"mark":{"type":"rule","color":"#3a9a3a","xOffset":-14,"x2Offset":14},"encoding":{"x2":{"field":"g"},"y":{"field":"ol","type":"quantitative","scale":{"domain":[0,1.2],"nice":false},"title":"percentage change (%)","axis":{"values":[0,0.2,0.4,0.6,0.8,1,1.2],"format":"~g","titlePadding":7,"minExtent":20,"maxExtent":20}}}}
   ]}
  ]},
 {"width":282,"height":212,
  "encoding":{"x":{"field":"g","type":"nominal","scale":{"domain":["non","6mm","8mm","12mm"],"paddingInner":0,"paddingOuter":0},"title":"cerebrospinal fluid"}},
  "layer":[
   {"data":{"name":"csf"},"mark":{"type":"point","shape":"circle","filled":false,"size":9,"stroke":"#444","strokeWidth":0.8,"opacity":1},
    "encoding":{"y":{"field":"v","type":"quantitative","scale":{"domain":[0,4],"nice":false},"title":"percentage change (%)","axis":{"values":[0,0.5,1,1.5,2,2.5,3,3.5,4],"format":"~g","titlePadding":7,"minExtent":20,"maxExtent":20}}}},
   {"data":{"name":"csf_d"},"layer":[
    {"mark":{"type":"rule","color":"#3a9a3a","xOffset":-35.25},"encoding":{"x2":{"field":"g"},"y":{"field":"mean","type":"quantitative","scale":{"domain":[0,4],"nice":false},"title":"percentage change (%)","axis":{"values":[0,0.5,1,1.5,2,2.5,3,3.5,4],"format":"~g","titlePadding":7,"minExtent":20,"maxExtent":20}},"y2":{"field":"hi"}}},
    {"mark":{"type":"rule","color":"#3a9a3a","xOffset":35.25},"encoding":{"x2":{"field":"g"},"y":{"field":"mean","type":"quantitative","scale":{"domain":[0,4],"nice":false},"title":"percentage change (%)","axis":{"values":[0,0.5,1,1.5,2,2.5,3,3.5,4],"format":"~g","titlePadding":7,"minExtent":20,"maxExtent":20}},"y2":{"field":"hi"}}},
    {"mark":{"type":"rule","color":"#3a9a3a","xOffset":-35.25},"encoding":{"x2":{"field":"g"},"y":{"field":"mean","type":"quantitative","scale":{"domain":[0,4],"nice":false},"title":"percentage change (%)","axis":{"values":[0,0.5,1,1.5,2,2.5,3,3.5,4],"format":"~g","titlePadding":7,"minExtent":20,"maxExtent":20}},"y2":{"field":"lo"}}},
    {"mark":{"type":"rule","color":"#3a9a3a","xOffset":35.25},"encoding":{"x2":{"field":"g"},"y":{"field":"mean","type":"quantitative","scale":{"domain":[0,4],"nice":false},"title":"percentage change (%)","axis":{"values":[0,0.5,1,1.5,2,2.5,3,3.5,4],"format":"~g","titlePadding":7,"minExtent":20,"maxExtent":20}},"y2":{"field":"lo"}}},
    {"mark":{"type":"rule","color":"#3a9a3a","xOffset":-35.25,"x2Offset":35.25},"encoding":{"x2":{"field":"g"},"y":{"field":"mean","type":"quantitative","scale":{"domain":[0,4],"nice":false},"title":"percentage change (%)","axis":{"values":[0,0.5,1,1.5,2,2.5,3,3.5,4],"format":"~g","titlePadding":7,"minExtent":20,"maxExtent":20}}}},
    {"mark":{"type":"rule","color":"#3a9a3a","xOffset":-14,"x2Offset":14},"encoding":{"x2":{"field":"g"},"y":{"field":"oh","type":"quantitative","scale":{"domain":[0,4],"nice":false},"title":"percentage change (%)","axis":{"values":[0,0.5,1,1.5,2,2.5,3,3.5,4],"format":"~g","titlePadding":7,"minExtent":20,"maxExtent":20}}}},
    {"mark":{"type":"rule","color":"#3a9a3a","xOffset":-14,"x2Offset":14},"encoding":{"x2":{"field":"g"},"y":{"field":"ol","type":"quantitative","scale":{"domain":[0,4],"nice":false},"title":"percentage change (%)","axis":{"values":[0,0.5,1,1.5,2,2.5,3,3.5,4],"format":"~g","titlePadding":7,"minExtent":20,"maxExtent":20}}}}
   ]}
  ]}
],"spacing":2},
{"vconcat":[
 {"width":281,"height":210,
  "encoding":{"x":{"field":"g","type":"nominal","scale":{"domain":["non","6mm","8mm","12mm"],"paddingInner":0,"paddingOuter":0},"title":"hippocampus"}},
  "layer":[
   {"data":{"name":"hc"},"mark":{"type":"point","shape":"circle","filled":false,"size":9,"stroke":"#444","strokeWidth":0.8,"opacity":1},
    "encoding":{"y":{"field":"v","type":"quantitative","scale":{"domain":[0,4],"nice":false},"title":"percentage change (%)","axis":{"values":[0,0.5,1,1.5,2,2.5,3,3.5,4],"format":"~g","titlePadding":2,"minExtent":16,"maxExtent":16}}}},
   {"data":{"name":"hc_d"},"layer":[
    {"mark":{"type":"rule","color":"#3a9a3a","xOffset":-35.1},"encoding":{"x2":{"field":"g"},"y":{"field":"mean","type":"quantitative","scale":{"domain":[0,4],"nice":false},"title":"percentage change (%)","axis":{"values":[0,0.5,1,1.5,2,2.5,3,3.5,4],"format":"~g","titlePadding":2,"minExtent":16,"maxExtent":16}},"y2":{"field":"hi"}}},
    {"mark":{"type":"rule","color":"#3a9a3a","xOffset":35.1},"encoding":{"x2":{"field":"g"},"y":{"field":"mean","type":"quantitative","scale":{"domain":[0,4],"nice":false},"title":"percentage change (%)","axis":{"values":[0,0.5,1,1.5,2,2.5,3,3.5,4],"format":"~g","titlePadding":2,"minExtent":16,"maxExtent":16}},"y2":{"field":"hi"}}},
    {"mark":{"type":"rule","color":"#3a9a3a","xOffset":-35.1},"encoding":{"x2":{"field":"g"},"y":{"field":"mean","type":"quantitative","scale":{"domain":[0,4],"nice":false},"title":"percentage change (%)","axis":{"values":[0,0.5,1,1.5,2,2.5,3,3.5,4],"format":"~g","titlePadding":2,"minExtent":16,"maxExtent":16}},"y2":{"field":"lo"}}},
    {"mark":{"type":"rule","color":"#3a9a3a","xOffset":35.1},"encoding":{"x2":{"field":"g"},"y":{"field":"mean","type":"quantitative","scale":{"domain":[0,4],"nice":false},"title":"percentage change (%)","axis":{"values":[0,0.5,1,1.5,2,2.5,3,3.5,4],"format":"~g","titlePadding":2,"minExtent":16,"maxExtent":16}},"y2":{"field":"lo"}}},
    {"mark":{"type":"rule","color":"#3a9a3a","xOffset":-35.1,"x2Offset":35.1},"encoding":{"x2":{"field":"g"},"y":{"field":"mean","type":"quantitative","scale":{"domain":[0,4],"nice":false},"title":"percentage change (%)","axis":{"values":[0,0.5,1,1.5,2,2.5,3,3.5,4],"format":"~g","titlePadding":2,"minExtent":16,"maxExtent":16}}}},
    {"mark":{"type":"rule","color":"#3a9a3a","xOffset":-14,"x2Offset":14},"encoding":{"x2":{"field":"g"},"y":{"field":"oh","type":"quantitative","scale":{"domain":[0,4],"nice":false},"title":"percentage change (%)","axis":{"values":[0,0.5,1,1.5,2,2.5,3,3.5,4],"format":"~g","titlePadding":2,"minExtent":16,"maxExtent":16}}}},
    {"mark":{"type":"rule","color":"#3a9a3a","xOffset":-14,"x2Offset":14},"encoding":{"x2":{"field":"g"},"y":{"field":"ol","type":"quantitative","scale":{"domain":[0,4],"nice":false},"title":"percentage change (%)","axis":{"values":[0,0.5,1,1.5,2,2.5,3,3.5,4],"format":"~g","titlePadding":2,"minExtent":16,"maxExtent":16}}}}
   ]}
  ]},
 {"width":281,"height":210,
  "encoding":{"x":{"field":"g","type":"nominal","scale":{"domain":["non","6mm","8mm","12mm"],"paddingInner":0,"paddingOuter":0},"title":"orbital gyrus"}},
  "layer":[
   {"data":{"name":"og"},"mark":{"type":"point","shape":"circle","filled":false,"size":9,"stroke":"#444","strokeWidth":0.8,"opacity":1},
    "encoding":{"y":{"field":"v","type":"quantitative","scale":{"domain":[0,8],"nice":false},"title":"percentage change (%)","axis":{"values":[0,1,2,3,4,5,6,7,8],"format":"~g","titlePadding":2,"minExtent":16,"maxExtent":16}}}},
   {"data":{"name":"og_d"},"layer":[
    {"mark":{"type":"rule","color":"#3a9a3a","xOffset":-35.1},"encoding":{"x2":{"field":"g"},"y":{"field":"mean","type":"quantitative","scale":{"domain":[0,8],"nice":false},"title":"percentage change (%)","axis":{"values":[0,1,2,3,4,5,6,7,8],"format":"~g","titlePadding":2,"minExtent":16,"maxExtent":16}},"y2":{"field":"hi"}}},
    {"mark":{"type":"rule","color":"#3a9a3a","xOffset":35.1},"encoding":{"x2":{"field":"g"},"y":{"field":"mean","type":"quantitative","scale":{"domain":[0,8],"nice":false},"title":"percentage change (%)","axis":{"values":[0,1,2,3,4,5,6,7,8],"format":"~g","titlePadding":2,"minExtent":16,"maxExtent":16}},"y2":{"field":"hi"}}},
    {"mark":{"type":"rule","color":"#3a9a3a","xOffset":-35.1},"encoding":{"x2":{"field":"g"},"y":{"field":"mean","type":"quantitative","scale":{"domain":[0,8],"nice":false},"title":"percentage change (%)","axis":{"values":[0,1,2,3,4,5,6,7,8],"format":"~g","titlePadding":2,"minExtent":16,"maxExtent":16}},"y2":{"field":"lo"}}},
    {"mark":{"type":"rule","color":"#3a9a3a","xOffset":35.1},"encoding":{"x2":{"field":"g"},"y":{"field":"mean","type":"quantitative","scale":{"domain":[0,8],"nice":false},"title":"percentage change (%)","axis":{"values":[0,1,2,3,4,5,6,7,8],"format":"~g","titlePadding":2,"minExtent":16,"maxExtent":16}},"y2":{"field":"lo"}}},
    {"mark":{"type":"rule","color":"#3a9a3a","xOffset":-35.1,"x2Offset":35.1},"encoding":{"x2":{"field":"g"},"y":{"field":"mean","type":"quantitative","scale":{"domain":[0,8],"nice":false},"title":"percentage change (%)","axis":{"values":[0,1,2,3,4,5,6,7,8],"format":"~g","titlePadding":2,"minExtent":16,"maxExtent":16}}}},
    {"mark":{"type":"rule","color":"#3a9a3a","xOffset":-14,"x2Offset":14},"encoding":{"x2":{"field":"g"},"y":{"field":"oh","type":"quantitative","scale":{"domain":[0,8],"nice":false},"title":"percentage change (%)","axis":{"values":[0,1,2,3,4,5,6,7,8],"format":"~g","titlePadding":2,"minExtent":16,"maxExtent":16}}}},
    {"mark":{"type":"rule","color":"#3a9a3a","xOffset":-14,"x2Offset":14},"encoding":{"x2":{"field":"g"},"y":{"field":"ol","type":"quantitative","scale":{"domain":[0,8],"nice":false},"title":"percentage change (%)","axis":{"values":[0,1,2,3,4,5,6,7,8],"format":"~g","titlePadding":2,"minExtent":16,"maxExtent":16}}}}
   ]},
   {"data":{"name":"og_s"},"layer":[
    {"mark":{"type":"rule","color":"#444","strokeWidth":1},"encoding":{"x":{"field":"a","type":"nominal","scale":{"domain":["non","6mm","8mm","12mm"],"paddingInner":0,"paddingOuter":0},"title":"orbital gyrus"},"x2":{"field":"b"},"y":{"field":"y","type":"quantitative","scale":{"domain":[0,8],"nice":false},"title":"percentage change (%)","axis":{"values":[0,1,2,3,4,5,6,7,8],"format":"~g","titlePadding":2,"minExtent":16,"maxExtent":16}}}},
    {"mark":{"type":"rule","color":"#444","strokeWidth":1},"encoding":{"x":{"field":"a","type":"nominal","scale":{"domain":["non","6mm","8mm","12mm"],"paddingInner":0,"paddingOuter":0},"title":"orbital gyrus"},"y":{"field":"y","type":"quantitative","scale":{"domain":[0,8],"nice":false},"title":"percentage change (%)","axis":{"values":[0,1,2,3,4,5,6,7,8],"format":"~g","titlePadding":2,"minExtent":16,"maxExtent":16}},"y2":{"field":"y0"}}},
    {"mark":{"type":"rule","color":"#444","strokeWidth":1},"encoding":{"x":{"field":"b","type":"nominal","scale":{"domain":["non","6mm","8mm","12mm"],"paddingInner":0,"paddingOuter":0},"title":"orbital gyrus"},"y":{"field":"y","type":"quantitative","scale":{"domain":[0,8],"nice":false},"title":"percentage change (%)","axis":{"values":[0,1,2,3,4,5,6,7,8],"format":"~g","titlePadding":2,"minExtent":16,"maxExtent":16}},"y2":{"field":"y0"}}},
    {"mark":{"type":"text","dx":38,"fontSize":14,"font":"Liberation Sans","fontWeight":"bold","baseline":"middle","color":"#333"},"encoding":{"x":{"field":"mid","type":"nominal","scale":{"domain":["non","6mm","8mm","12mm"],"paddingInner":0,"paddingOuter":0},"title":"orbital gyrus"},"y":{"field":"ys","type":"quantitative","scale":{"domain":[0,8],"nice":false},"title":"percentage change (%)","axis":{"values":[0,1,2,3,4,5,6,7,8],"format":"~g","titlePadding":2,"minExtent":16,"maxExtent":16}},"text":{"field":"s"}}}
   ]}
  ]},
 {"width":281,"height":207,
  "encoding":{"x":{"field":"g","type":"nominal","scale":{"domain":["non","6mm","8mm","12mm"],"paddingInner":0,"paddingOuter":0},"title":"cerebellum posterior lobe"}},
  "layer":[
   {"data":{"name":"cpl"},"mark":{"type":"point","shape":"circle","filled":false,"size":9,"stroke":"#444","strokeWidth":0.8,"opacity":1},
    "encoding":{"y":{"field":"v","type":"quantitative","scale":{"domain":[0,4],"nice":false},"title":"percentage change (%)","axis":{"values":[0,0.5,1,1.5,2,2.5,3,3.5,4],"format":"~g","titlePadding":2,"minExtent":16,"maxExtent":16}}}},
   {"data":{"name":"cpl_d"},"layer":[
    {"mark":{"type":"rule","color":"#3a9a3a","xOffset":-35.1},"encoding":{"x2":{"field":"g"},"y":{"field":"mean","type":"quantitative","scale":{"domain":[0,4],"nice":false},"title":"percentage change (%)","axis":{"values":[0,0.5,1,1.5,2,2.5,3,3.5,4],"format":"~g","titlePadding":2,"minExtent":16,"maxExtent":16}},"y2":{"field":"hi"}}},
    {"mark":{"type":"rule","color":"#3a9a3a","xOffset":35.1},"encoding":{"x2":{"field":"g"},"y":{"field":"mean","type":"quantitative","scale":{"domain":[0,4],"nice":false},"title":"percentage change (%)","axis":{"values":[0,0.5,1,1.5,2,2.5,3,3.5,4],"format":"~g","titlePadding":2,"minExtent":16,"maxExtent":16}},"y2":{"field":"hi"}}},
    {"mark":{"type":"rule","color":"#3a9a3a","xOffset":-35.1},"encoding":{"x2":{"field":"g"},"y":{"field":"mean","type":"quantitative","scale":{"domain":[0,4],"nice":false},"title":"percentage change (%)","axis":{"values":[0,0.5,1,1.5,2,2.5,3,3.5,4],"format":"~g","titlePadding":2,"minExtent":16,"maxExtent":16}},"y2":{"field":"lo"}}},
    {"mark":{"type":"rule","color":"#3a9a3a","xOffset":35.1},"encoding":{"x2":{"field":"g"},"y":{"field":"mean","type":"quantitative","scale":{"domain":[0,4],"nice":false},"title":"percentage change (%)","axis":{"values":[0,0.5,1,1.5,2,2.5,3,3.5,4],"format":"~g","titlePadding":2,"minExtent":16,"maxExtent":16}},"y2":{"field":"lo"}}},
    {"mark":{"type":"rule","color":"#3a9a3a","xOffset":-35.1,"x2Offset":35.1},"encoding":{"x2":{"field":"g"},"y":{"field":"mean","type":"quantitative","scale":{"domain":[0,4],"nice":false},"title":"percentage change (%)","axis":{"values":[0,0.5,1,1.5,2,2.5,3,3.5,4],"format":"~g","titlePadding":2,"minExtent":16,"maxExtent":16}}}},
    {"mark":{"type":"rule","color":"#3a9a3a","xOffset":-14,"x2Offset":14},"encoding":{"x2":{"field":"g"},"y":{"field":"oh","type":"quantitative","scale":{"domain":[0,4],"nice":false},"title":"percentage change (%)","axis":{"values":[0,0.5,1,1.5,2,2.5,3,3.5,4],"format":"~g","titlePadding":2,"minExtent":16,"maxExtent":16}}}},
    {"mark":{"type":"rule","color":"#3a9a3a","xOffset":-14,"x2Offset":14},"encoding":{"x2":{"field":"g"},"y":{"field":"ol","type":"quantitative","scale":{"domain":[0,4],"nice":false},"title":"percentage change (%)","axis":{"values":[0,0.5,1,1.5,2,2.5,3,3.5,4],"format":"~g","titlePadding":2,"minExtent":16,"maxExtent":16}}}}
   ]}
  ]}
],"spacing":4.25}
],
"spacing":20
}
